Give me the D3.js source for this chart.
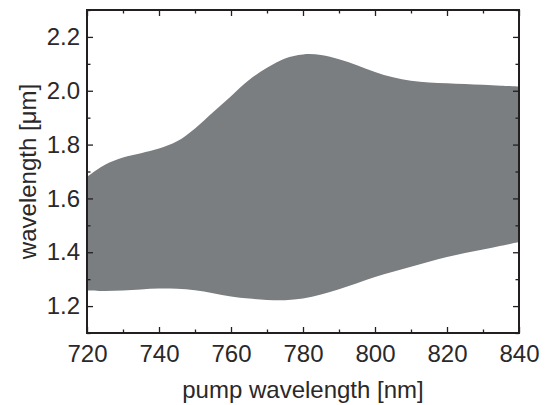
<!DOCTYPE html>
<html>
<head>
<meta charset="utf-8">
<script src="https://cdn.jsdelivr.net/npm/d3@7"></script>
<style>
  html, body { margin: 0; padding: 0; background: #fff; }
  svg text { font-family: "Liberation Sans", Arial, sans-serif; fill: #2b2829; }
  .axis path { display: none; }
  .axis line { stroke: #231f20; stroke-width: 1.3; }
</style>
</head>
<body>
<svg id="chart" width="548" height="405"></svg>
<script>
// pump wavelength [nm]
const pump = [720, 725, 730, 735, 740, 745, 750, 755, 760, 765, 770, 775, 780,
              785, 790, 795, 800, 805, 810, 815, 820, 825, 830, 835, 840];
// upper edge of the band [um]
const upperEdge = [1.680, 1.725, 1.752, 1.768, 1.785, 1.812, 1.860, 1.920, 1.980, 2.040, 2.085, 2.120, 2.135,
                   2.133, 2.117, 2.095, 2.070, 2.050, 2.037, 2.031, 2.028, 2.025, 2.022, 2.019, 2.016];
// lower edge of the band [um]
const lowerEdge = [1.258, 1.256, 1.258, 1.262, 1.265, 1.264, 1.259, 1.248, 1.236, 1.228, 1.223, 1.222, 1.228,
                   1.243, 1.263, 1.285, 1.308, 1.328, 1.346, 1.365, 1.382, 1.397, 1.410, 1.424, 1.438];

const xMajor = [720, 740, 760, 780, 800, 820, 840];
const xMinor = [730, 750, 770, 790, 810, 830];
const yMajor = [1.2, 1.4, 1.6, 1.8, 2.0, 2.2];
const yMinor = [1.1, 1.3, 1.5, 1.7, 1.9, 2.1, 2.3];

const svg = d3.select("#chart");
const margin = { left: 87, right: 29, top: 10, bottom: 72 };
const width = 548 - margin.left - margin.right;
const height = 405 - margin.top - margin.bottom;

const x = d3.scaleLinear().domain([720, 840]).range([0, width]);
const y = d3.scaleLinear().domain([1.1, 2.3]).range([height, 0]);

const g = svg.append("g").attr("transform", `translate(${margin.left},${margin.top})`);

const band = pump.map((p, i) => ({ p, lo: lowerEdge[i], hi: upperEdge[i] }));

g.append("path")
  .datum(band)
  .attr("fill", "#7a7e80")
  .attr("d", d3.area()
    .x(d => x(d.p))
    .y0(d => y(d.lo))
    .y1(d => y(d.hi))
    .curve(d3.curveCatmullRom.alpha(0.5)));

// major + minor ticks, pointing inward on all four sides
const MAJ = 6, MIN = 3.5;
function ticks(axisFn, scale, values, size, labels, pad) {
  const a = axisFn(scale).tickValues(values).tickSize(-size).tickPadding(pad);
  if (!labels) a.tickFormat("");
  return a;
}

const axBottom = g.append("g").attr("class", "axis").attr("transform", `translate(0,${height})`);
axBottom.call(ticks(d3.axisBottom, x, xMajor, MAJ, true, 12));
axBottom.append("g").call(ticks(d3.axisBottom, x, xMinor, MIN, false, 0));

const axTop = g.append("g").attr("class", "axis");
axTop.call(ticks(d3.axisTop, x, xMajor, MAJ, false, 0));
axTop.append("g").call(ticks(d3.axisTop, x, xMinor, MIN, false, 0));

const axLeft = g.append("g").attr("class", "axis");
axLeft.call(ticks(d3.axisLeft, y, yMajor, MAJ, true, 7).tickFormat(d3.format(".1f")));
axLeft.append("g").call(ticks(d3.axisLeft, y, yMinor, MIN, false, 0));

const axRight = g.append("g").attr("class", "axis").attr("transform", `translate(${width},0)`);
axRight.call(ticks(d3.axisRight, y, yMajor, MAJ, false, 0));
axRight.append("g").call(ticks(d3.axisRight, y, yMinor, MIN, false, 0));

g.selectAll(".axis").attr("font-size", null).attr("font-family", null);
g.selectAll(".axis text").attr("font-size", 24);

// frame
g.append("rect")
  .attr("width", width)
  .attr("height", height)
  .attr("fill", "none")
  .attr("stroke", "#231f20")
  .attr("stroke-width", 2);

svg.append("text")
  .attr("x", margin.left + width / 2)
  .attr("y", 398)
  .attr("text-anchor", "middle")
  .attr("font-size", 24)
  .text("pump wavelength [nm]");

svg.append("text")
  .attr("transform", `translate(36,${margin.top + height / 2}) rotate(-90)`)
  .attr("text-anchor", "middle")
  .attr("font-size", 24)
  .text("wavelength [\u03bcm]");
</script>
</body>
</html>
